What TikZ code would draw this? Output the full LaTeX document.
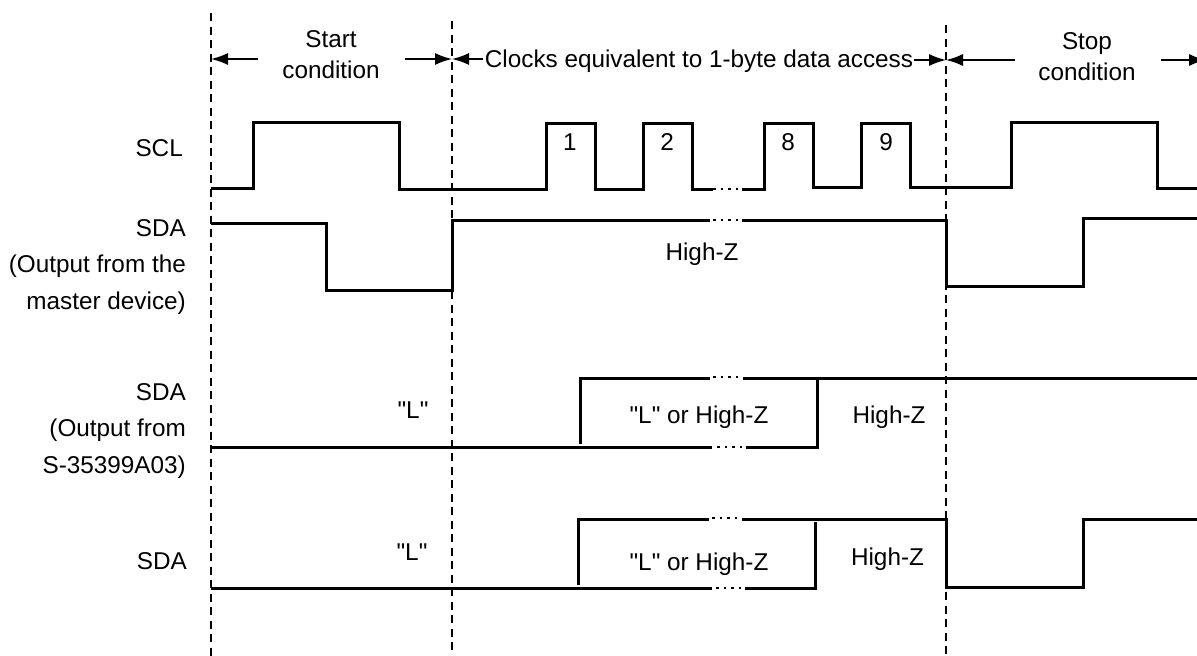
\documentclass[tikz,border=0pt]{standalone}
\usepackage{fontspec}
\setmainfont{Liberation Sans}[Ligatures=TeXOff]
\usetikzlibrary{arrows.meta}
\begin{document}
\begin{tikzpicture}[
        x=1pt, y=-1pt,
        label/.style={inner sep=0pt, align=center, font=\fontsize{24.3}{31}\selectfont},
        signame/.style={label, anchor=east, align=right, font=\fontsize{24.3}{36.5}\selectfont},
        wave/.style={line width=3pt, line join=miter, line cap=butt},
        guide/.style={line width=1.8pt, dash pattern=on 8pt off 5.5pt},
        dots/.style={line width=2.5pt, dash pattern=on 2.5pt off 5.1pt},
        span/.style={{Latex[length=17pt,width=12pt]}-, line width=1.5pt}
    ]
        \useasboundingbox (0,0) rectangle (1197,656);

        \draw[guide] (211,13) -- (211,670);
        \draw[guide] (452,21) -- (452,670);
        \draw[guide] (946,25) -- (946,670);

        \node[label] (start) at (331,55) {Start\\condition};
        \node[label] (clocks) at (699,61) {Clocks equivalent to 1-byte data access};
        \node[label] (stop) at (1087,57) {Stop\\condition};

        \coordinate (a1) at (211,59);
        \coordinate (a2) at (258,59);
        \coordinate (a3) at (452,59);
        \coordinate (a4) at (405,59);
        \coordinate (a5) at (483,59);
        \coordinate (a6) at (946,60);
        \coordinate (a7) at (914,60);
        \coordinate (a8) at (1015,60);
        \coordinate (a9) at (1206,60);
        \coordinate (a10) at (1161,60);
        \draw[span] (a1) -- (a2);
        \draw[span] (a3) -- (a4);
        \draw[span] (a3) -- (a5);
        \draw[span] (a6) -- (a7);
        \draw[span] (a6) -- (a8);
        \draw[span] (a9) -- (a10);

        \node[signame] (scl) at (183,148) {SCL};
        \node[signame] (sdamaster) at (186,267) {SDA\\(Output from the\\master device)};
        \node[signame] (sdaslave) at (186,431) {SDA\\(Output from\\S-35399A03)};
        \node[signame] (sdabus) at (187,561) {SDA};

        \draw[wave] (211,188) -- (253,188) -- (253,122) -- (399,122) -- (399,189) -- (546,189) -- (546,123)
            -- (595,123) -- (595,189) -- (643,189) -- (643,123) -- (692,123) -- (692,189) -- (713,189);
        \draw[dots] (713,189) -- (738,189);
        \draw[wave] (742,189) -- (764,189) -- (764,123) -- (813,123) -- (813,187) -- (861,187) -- (861,123)
            -- (910,123) -- (910,187) -- (1011,187) -- (1011,122) -- (1157,122) -- (1157,188) -- (1197,188);
        \node[label] (bit1) at (570,142) {1};
        \node[label] (bit2) at (667,142) {2};
        \node[label] (bit8) at (788,142) {8};
        \node[label] (bit9) at (886,142) {9};

        \draw[wave] (211,223) -- (326,223) -- (326,290) -- (452,290) -- (452,220) -- (710,220);
        \draw[dots] (713,220) -- (738,220);
        \draw[wave] (742,220) -- (946,220) -- (946,286) -- (1083,286) -- (1083,218) -- (1197,218);
        \node[label] (hiz1) at (702,254.5) {High-Z};

        \draw[wave] (211,447) -- (712,447);
        \draw[dots] (717,447) -- (742,447);
        \draw[wave] (746,447) -- (817,447) -- (817,380);
        \draw[wave] (580,444) -- (580,378) -- (710,378);
        \draw[dots] (713,377) -- (738,377);
        \draw[wave] (743,378) -- (1197,378);
        \node[label] (low1) at (413,410) {"L"};
        \node[label] (lorz1) at (699,417) {"L" or High-Z};
        \node[label] (hiz2) at (889,417) {High-Z};

        \draw[wave] (211,588) -- (712,588);
        \draw[dots] (716,588) -- (741,588);
        \draw[wave] (745,588) -- (815,588) -- (815,522);
        \draw[wave] (578,585) -- (578,519) -- (709,519);
        \draw[dots] (712,518) -- (737,518);
        \draw[wave] (742,519) -- (946,519) -- (946,587) -- (1083,587) -- (1083,519) -- (1197,519);
        \node[label] (low2) at (412,552) {"L"};
        \node[label] (lorz2) at (699,564.5) {"L" or High-Z};
        \node[label] (hiz3) at (887.5,559.5) {High-Z};
    \end{tikzpicture}
\end{document}
